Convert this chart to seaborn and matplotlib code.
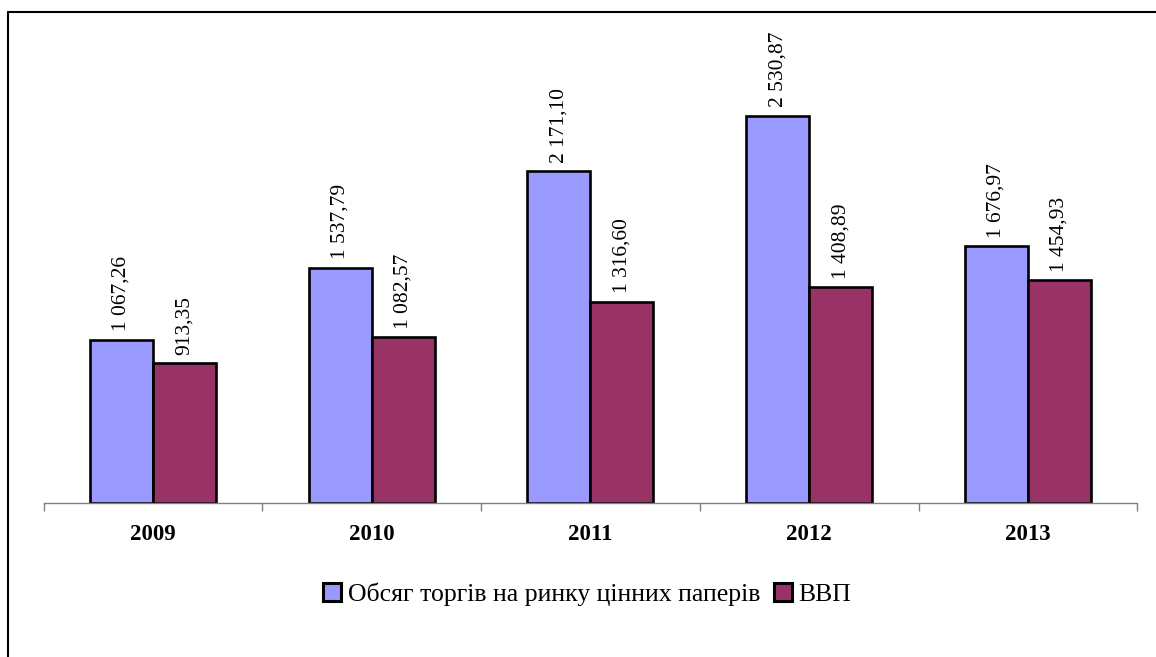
import pandas as pd
import numpy as np
import matplotlib
matplotlib.use('Agg')
import matplotlib.pyplot as plt
from matplotlib.lines import Line2D
import seaborn as sns

# data
years = ['2009', '2010', '2011', '2012', '2013']
trade_volume = [1067.26, 1537.79, 2171.10, 2530.87, 1676.97]
gdp = [913.35, 1082.57, 1316.60, 1408.89, 1454.93]
series_names = ['Обсяг торгів на ринку цінних паперів', 'ВВП']
colors = ['#9999FF', '#993366']

sns.set_style('white')
plt.rcParams['font.family'] = ['Liberation Serif', 'DejaVu Serif']

df = pd.DataFrame({
    'year': years * 2,
    'value': trade_volume + gdp,
    'series': [series_names[0]] * len(years) + [series_names[1]] * len(years),
})


def fmt(v):
    # 1 067,26 style
    return f"{v:,.2f}".replace(",", " ").replace(".", ",")


fig = plt.figure(figsize=(11.56, 6.57), dpi=100)
ax = fig.add_axes([0.0377, 0.2344, 0.9462, 0.6986])

sns.barplot(data=df, x='year', y='value', hue='series', palette=colors,
            edgecolor='black', linewidth=1.9, width=0.576, gap=0,
            saturation=1, ax=ax, legend=True)

for cont in ax.containers:
    vals = [b.get_height() for b in cont]
    ax.bar_label(cont, labels=[fmt(v) for v in vals], rotation=90,
                 padding=6, fontsize=15.5, color='black')

ax.set_ylim(0, 3000)
ax.set_xlim(-0.5, 4.5)
ax.set_xlabel('')
ax.set_ylabel('')
ax.set_yticks([])
for s in ['left', 'top', 'right']:
    ax.spines[s].set_visible(False)
ax.spines['bottom'].set_color('#808080')
ax.spines['bottom'].set_linewidth(1.0)

ax.set_xticks(range(len(years)))
ax.set_xticklabels(years, fontsize=16.5, fontweight='bold', color='black')
ax.tick_params(axis='x', which='major', length=0, pad=15)
ax.set_xticks(np.arange(-0.5, len(years), 1.0), minor=True)
ax.tick_params(axis='x', which='minor', bottom=True, length=6, width=1.0,
               color='#808080', direction='out')

handles, labels = ax.get_legend_handles_labels()
ax.legend_.remove()
leg = fig.legend(handles, labels, loc='center', bbox_to_anchor=(0.508, 0.096), ncol=2,
                 frameon=False, fontsize=18.5, handlelength=0.7, handleheight=0.7,
                 handletextpad=0.25, columnspacing=0.55, labelcolor='black')
for h in leg.legend_handles:
    h.set_linewidth(2.2)

# frame lines (top and left)
x0 = 8 / 1156
y0 = 1 - 12 / 657
fig.add_artist(Line2D([x0, x0], [0, y0], transform=fig.transFigure, color='black', lw=1.5))
fig.add_artist(Line2D([x0, 1], [y0, y0], transform=fig.transFigure, color='black', lw=1.5))

fig.savefig('out.png', dpi=100, facecolor='white')
